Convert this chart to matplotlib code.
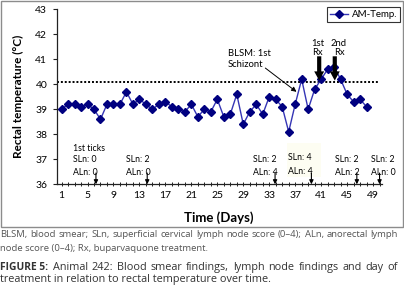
import matplotlib
matplotlib.use("Agg")
import matplotlib.pyplot as plt
from matplotlib.patches import Rectangle

days = list(range(1, 49))
temps = [39.0, 39.2, 39.2, 39.1, 39.2, 39.0, 38.6, 39.2, 39.2, 39.2,
         39.7, 39.2, 39.4, 39.2, 39.0, 39.2, 39.3, 39.1, 39.0, 38.9,
         39.2, 38.7, 39.0, 38.9, 39.4, 38.7, 38.8, 39.6, 38.4, 38.9,
         39.2, 38.8, 39.5, 39.4, 39.1, 38.1, 39.2, 40.2, 39.0, 39.8,
         40.2, 40.6, 40.7, 40.2, 39.6, 39.3, 39.4, 39.1]
threshold = 40.1
xtick_labels = [1, 5, 9, 13, 17, 21, 25, 29, 33, 37, 41, 45, 49]
yticks = [36, 37, 38, 39, 40, 41, 42, 43]

ln_days = [6.3, 14.2, 33.9, 39.5, 46.5, 50.0]
ln_sln = ["SLn: 0", "SLn: 2", "SLn: 2", "SLn: 4", "SLn: 2", "SLn: 2"]
ln_aln = ["ALn: 0", "ALn: 0", "ALn: 4", "ALn: 4", "ALn: 2", "ALn: 0"]
ln_text_x = [2.77, 10.9, 30.5, 35.9, 43.1, 48.7]

rx_days = [40.7, 43.1]
rx_text_x = [40.45, 43.75]
rx_labels = ["1st\nRx", "2nd\nRx"]

FONT = ["Lato", "DejaVu Sans"]
plt.rcParams['font.family'] = FONT

W, H = 404, 295
fig = plt.figure(figsize=(W/100, H/100), dpi=100)
ax = fig.add_axes([57/W, 1-184.3/H, (381.5-57)/W, (184.3-9.3)/H])

# chart border
fig.patches.append(Rectangle((0.5/W, 1-227/H), 402.5/W, 226.5/H,
                             transform=fig.transFigure, fill=False,
                             edgecolor='#8c8c8c', linewidth=1.0))

ax.axhline(threshold, xmin=0, xmax=0.99, color='black', linestyle=(0, (1, 1)), linewidth=1.4)
ax.plot(days, temps, color='#3535b5', linewidth=1.0, marker='D', markersize=3.6,
        markerfacecolor='#000080', markeredgecolor='#000080', label='AM-Temp.', zorder=3)

ax.set_xlim(0.3, 50.3)
ax.set_ylim(36, 43)
ax.set_xticks(xtick_labels)
ax.set_xticks(range(1, 51), minor=True)
ax.set_yticks(yticks)
for s in ['top', 'right']:
    ax.spines[s].set_visible(False)
for s in ['left', 'bottom']:
    ax.spines[s].set_color('#222222')
    ax.spines[s].set_linewidth(0.9)
ax.tick_params(axis='y', direction='out', length=3, width=0.8, labelsize=7.5, pad=4, color='#222222')
ax.tick_params(axis='x', which='both', direction='inout', length=3.5, width=0.7, labelsize=7.5, pad=3, color='#222222')

ax.set_ylabel("Rectal temperature (°C)", fontsize=8.5, fontweight='bold', labelpad=8)
ax.set_xlabel("Time (Days)", fontsize=9.5, fontweight='bold', labelpad=8)

# lymph node annotations
ax.text(ln_text_x[0], 37.45, "1st ticks", fontsize=6.3, va='center', ha='left')
for i, (xd, xt, s, a) in enumerate(zip(ln_days, ln_text_x, ln_sln, ln_aln)):
    ys, ya = (36.98, 36.48) if i != 3 else (37.06, 36.53)
    if i == 3:
        ax.add_patch(Rectangle((xt - 0.2, 36.3), 5.3, 1.35, facecolor='#fdfdf2', edgecolor='none', zorder=0))
    ax.text(xt, ys, s, fontsize=6.3, va='center', ha='left')
    ax.text(xt, ya, a, fontsize=6.3, va='center', ha='left')
    ax.annotate("", xy=(xd, 36.0), xytext=(xd, 36.45),
                arrowprops=dict(arrowstyle='-|>', color='black', lw=0.8,
                                mutation_scale=6, shrinkA=0, shrinkB=0),
                annotation_clip=False)

# BLSM annotation
ax.text(26.6, 41.25, "BLSM: 1st", fontsize=6.8, va='center', ha='left')
ax.text(26.6, 40.78, "Schizont", fontsize=6.8, va='center', ha='left')
ax.annotate("", xy=(37.2, 39.7), xytext=(32.4, 40.65),
            arrowprops=dict(arrowstyle='-|>', color='black', lw=0.7,
                            mutation_scale=7, shrinkA=0, shrinkB=0))

# treatment arrows
for xd, xt, lab in zip(rx_days, rx_text_x, rx_labels):
    ax.text(xt, 41.46, lab, fontsize=6.8, va='center', ha='center', linespacing=0.95)
    ax.annotate("", xy=(xd, 40.15), xytext=(xd, 41.12),
                arrowprops=dict(arrowstyle='simple,head_length=0.55,head_width=0.6,tail_width=0.25',
                                color='black', lw=0, mutation_scale=12, shrinkA=0, shrinkB=0),
                zorder=4)

leg = ax.legend(loc='upper right', bbox_to_anchor=(400/W, 1-7.5/H), bbox_transform=fig.transFigure,
                fontsize=7, frameon=True, fancybox=False, framealpha=1, handlelength=1.8,
                borderpad=0.3, handletextpad=0.4, borderaxespad=0)
leg.get_frame().set_edgecolor('#333333')
leg.get_frame().set_linewidth(0.8)

# caption
cap_font = ["Open Sans", "DejaVu Sans"]
renderer = fig.canvas.get_renderer()


def justified(x0, x1, y, words, **kw):
    """Place words so the line spans x0..x1 pixels (justified)."""
    texts = [fig.text(0, 1-y/H, w, va='center', ha='left', **kw) for w in words]
    widths = [t.get_window_extent(renderer).width for t in texts]
    gap = (x1 - x0 - sum(widths)) / (len(words) - 1)
    x = x0
    for t, w in zip(texts, widths):
        t.set_x(x / W)
        x += w + gap


line1 = "BLSM, blood smear; SLn, superficial cervical lymph node score (0–4); ALn, anorectal lymph"
justified(0.5, 398, 234.3, line1.split(' '), fontsize=6.8, color='#555555', family=cap_font)
fig.text(0.5/W, 1-248.5/H, "node score (0–4); Rx, buparvaquone treatment.",
         fontsize=6.8, color='#555555', va='center', ha='left', family=cap_font)

fig_lbl = fig.text(0.5/W, 1-267.7/H, "FIGURE 5:", fontsize=7.4, color='#333333', va='center', ha='left',
                   family=cap_font, fontweight='bold')
fl_w = fig_lbl.get_window_extent(renderer).width
line3 = "Animal 242: Blood smear findings, lymph node findings and day of"
justified(0.5 + fl_w + 4, 398, 267.7, line3.split(' '), fontsize=7.8, color='#333333', family=cap_font)
fig.text(0.5/W, 1-279.3/H, "treatment in relation to rectal temperature over time.",
         fontsize=7.8, color='#333333', va='center', ha='left', family=cap_font)

fig.savefig("out.png", dpi=100)
